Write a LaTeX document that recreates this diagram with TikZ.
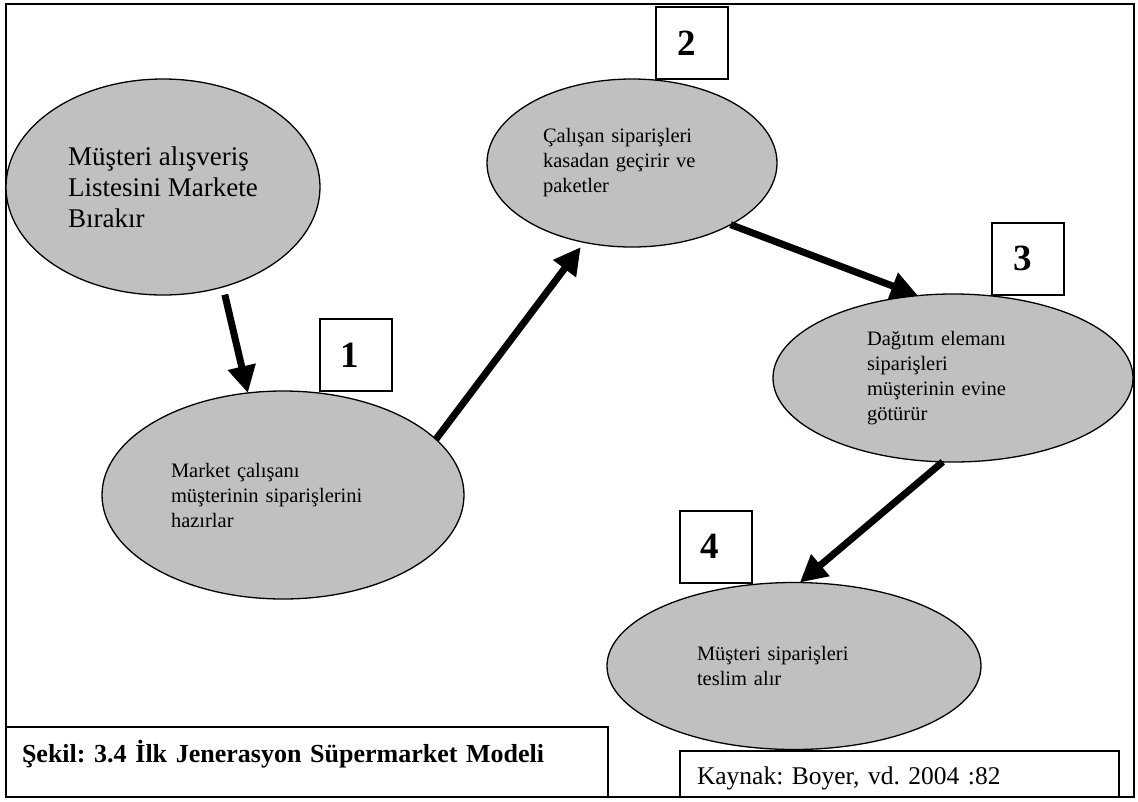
\documentclass[tikz,border=0pt]{standalone}
\usepackage{fontspec}
\setmainfont{Liberation Serif}
\usetikzlibrary{arrows.meta, shapes, positioning}
\definecolor{silver}{RGB}{192,192,192}
\frenchspacing

\begin{document}
\begin{tikzpicture}[x=1pt,y=-1pt,>={Triangle[length=27pt,width=27pt]},line width=7pt]
	
	\tikzset{node st/.style={ellipse, draw=black, line width=1.3pt,
			fill=silver, outer sep=0pt, inner sep=0pt, align=left,
			font=\fontsize{20.5}{25}\selectfont},
		node nr/.style={draw=black, line width=2pt, fill=white,
			minimum height=72pt, text width=30pt, inner xsep=21pt,
			inner ysep=0pt, align=left,
			font=\fontsize{37}{40}\selectfont\bfseries}}
	
	\useasboundingbox (0,0) rectangle (1138,801);
	\draw[line width=2pt] (6,4) rectangle (1134,797);
	
	\node[node st, minimum width=314pt, minimum height=216pt,
	font=\fontsize{27}{31}\selectfont] (L) at (163,187)
	{Müşteri alışveriş\\Listesini Markete\\Bırakır};
	\node[node st, minimum width=362pt, minimum height=208pt, text width=224pt]
	(P) at (283,495) {Market çalışanı\\müşterinin siparişlerini\\hazırlar};
	\node[node st, minimum width=290pt, minimum height=168pt, text width=178pt]
	(K) at (632,163) {Çalışan siparişleri\\kasadan geçirir ve\\paketler};
	\node[node st, minimum width=360pt, minimum height=168pt, text width=172pt]
	(D) at (953,378) {Dağıtım elemanı\\siparişleri\\müşterinin evine\\götürür};
	\node[node st, minimum width=374pt, minimum height=167pt, text width=194pt]
	(T) at (794,666) {Müşteri siparişleri\\teslim alır};
	
	\node[node nr] (n1) at (355.5,355) {1};
	\node[node nr] (n2) at (692,43) {2};
	\node[node nr] (n3) at (1028,258.5) {3};
	\node[node nr] (n4) at (715.5,546.5) {4};
	
	\node[draw=black, line width=2pt, minimum width=602pt, minimum height=70pt,
	text width=570pt, inner xsep=16pt, align=left, text height=12pt,
	text depth=12pt, font=\fontsize{26}{30}\selectfont\bfseries]
	(cap) at (307,762) {Şekil: 3.4 İlk Jenerasyon Süpermarket Modeli};
	\node[draw=black, line width=2pt, minimum width=439pt, minimum height=46pt,
	text width=405pt, inner xsep=17pt, align=left, text height=22pt,
	text depth=2pt, font=\fontsize{25.5}{30}\selectfont]
	(src) at (899.5,774) {Kaynak: Boyer, vd. 2004 :82};
	
	\draw[draw=black]
	(L.-59) edge[->, shorten <=8pt] (P.109)
	(P.20) edge[->, shorten >=6pt] (K.-121)
	(K.-32) edge[->] (D.113)
	(D.-97) edge[->] (T.86);
	
\end{tikzpicture}
\end{document}
